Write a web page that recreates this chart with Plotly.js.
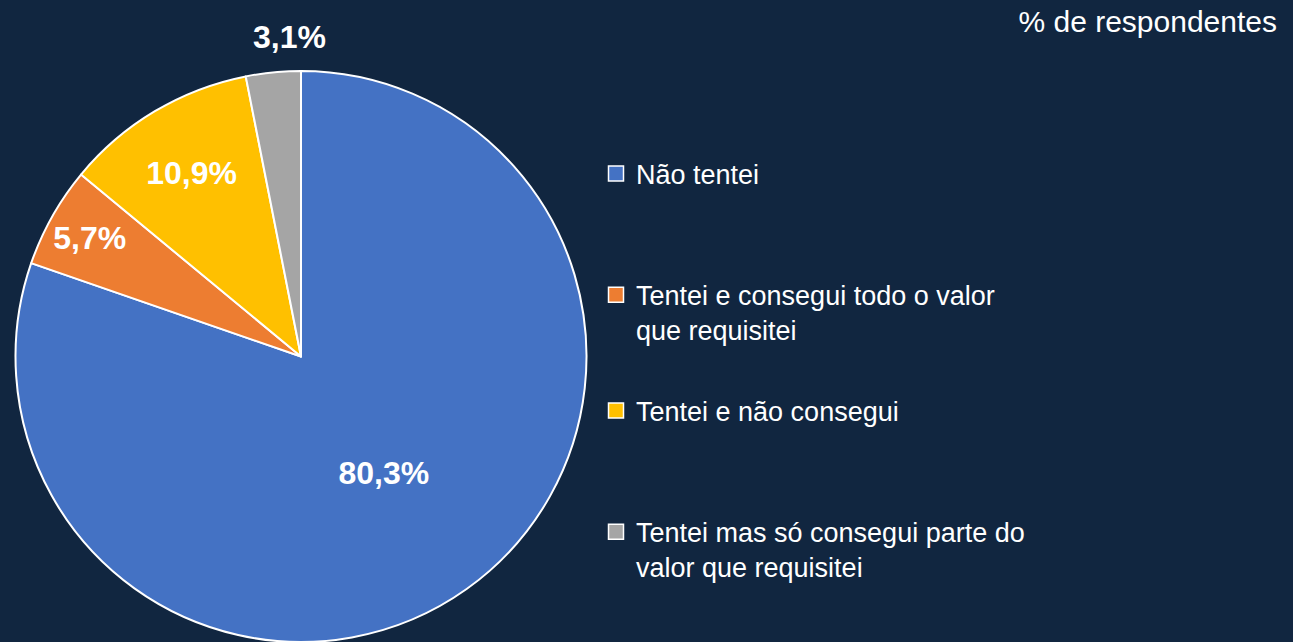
<!DOCTYPE html>
<html><head><meta charset="utf-8">
<script src="https://cdn.plot.ly/plotly-3.0.1.min.js"></script>
<style>html,body{margin:0;padding:0;background:#112640;} #chart{width:1293px;height:642px;}</style>
</head><body><div id="chart"></div>
<script>
const categories = [
  "Não tentei",
  "Tentei e consegui todo o valor<br>que requisitei",
  "Tentei e não consegui",
  "Tentei mas só consegui parte do<br>valor que requisitei"
];
const values = [80.3, 5.7, 10.9, 3.1];
const colors = ['#4472C4', '#ED7D31', '#FFC000', '#A5A5A5'];
const labelPositions = ['inside', 'inside', 'inside', 'none'];
const chartTitle = "% de respondentes";

const W = 1293, H = 642;
const FONT = 'Liberation Sans, Arial, sans-serif';
const legendMarkerPx = [174, 295, 411, 532];
const pieDomain = {x: [15 / W, 587 / W], y: [0, 1 - 71 / H]};

const pie = {
  type: 'pie',
  labels: categories,
  values: values,
  sort: false,
  direction: 'clockwise',
  rotation: 0,
  marker: {colors: colors, line: {color: '#ffffff', width: 2}},
  texttemplate: '<b>%{value:.1f}%</b>',
  textposition: labelPositions,
  insidetextorientation: 'horizontal',
  textfont: {family: FONT, size: 32, color: '#ffffff'},
  domain: pieDomain,
  showlegend: false,
  hoverinfo: 'none'
};

const traces = [pie];
const fmt = v => v.toFixed(1).replace('.', ',') + '%';

const layout = {
  width: W, height: H,
  margin: {l: 0, r: 0, t: 0, b: 0},
  paper_bgcolor: '#112640',
  plot_bgcolor: 'rgba(0,0,0,0)',
  separators: ',.',
  showlegend: true,
  xaxis: {visible: false, domain: [0.9, 1]},
  yaxis: {visible: false, domain: [0.9, 1]},
  title: {
    text: chartTitle,
    font: {family: FONT, size: 30, color: '#ffffff'},
    xref: 'container', yref: 'container',
    x: 1277 / W, xanchor: 'right',
    y: 1 - 21 / H, yanchor: 'middle'
  },
  annotations: [{
    // label of the last (small) slice, drawn above the pie
    text: '<b>' + fmt(values[3]) + '</b>',
    xref: 'paper', yref: 'paper',
    x: (pieDomain.x[0] + pieDomain.x[1]) / 2, xanchor: 'center', xshift: -12,
    y: pieDomain.y[1], yanchor: 'bottom', yshift: 14,
    showarrow: false,
    font: {family: FONT, size: 32, color: '#ffffff'}
  }]
};

categories.forEach((name, i) => {
  const key = i === 0 ? 'legend' : 'legend' + (i + 1);
  const shown = name.indexOf('<br>') >= 0 ? '&nbsp;<br>' + name : name;
  traces.push({
    type: 'scatter', mode: 'markers',
    x: [null], y: [null],
    name: shown,
    legend: key,
    marker: {symbol: 'square', size: 15, color: colors[i], line: {color: '#ffffff', width: 1.5}},
    hoverinfo: 'none'
  });
  layout[key] = {
    x: 596 / W, xanchor: 'left',
    y: 1 - legendMarkerPx[i] / H, yanchor: 'middle',
    bgcolor: 'rgba(0,0,0,0)',
    font: {family: FONT, size: 27, color: '#ffffff'}
  };
});

Plotly.newPlot('chart', traces, layout, {displayModeBar: false, staticPlot: true});
</script>
</body></html>
